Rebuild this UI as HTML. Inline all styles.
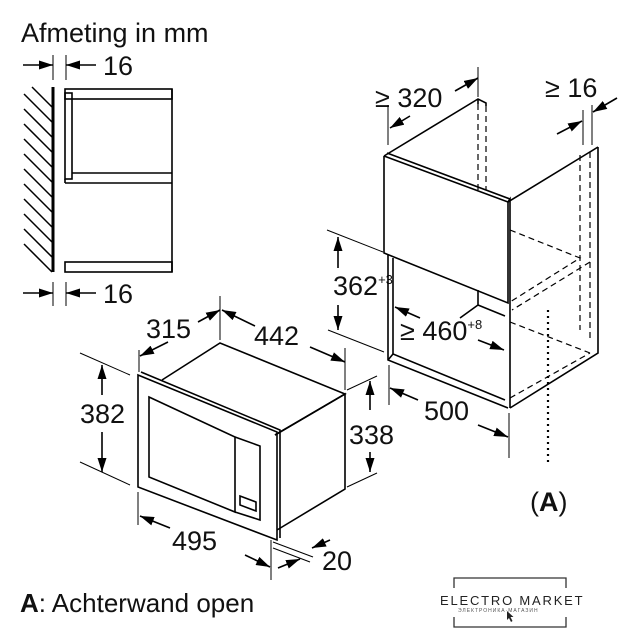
<!DOCTYPE html>
<html><head><meta charset="utf-8"><style>
html,body{margin:0;padding:0;background:#fff;}
svg{display:block;font-family:"Liberation Sans",Arial,sans-serif;}
</style></head><body>
<svg width="637" height="640" viewBox="0 0 637 640" xmlns="http://www.w3.org/2000/svg">
<defs>
<marker id="a" viewBox="0 0 14 9" refX="14" refY="4.5" markerWidth="14" markerHeight="9" markerUnits="userSpaceOnUse" orient="auto"><path d="M0,0 L14,4.5 L0,9 z" fill="#000"/></marker>
</defs>
<g fill="#111" font-size="27">
<text x="21" y="42">Afmeting in mm</text>
<text x="103" y="75">16</text>
<text x="103" y="303">16</text>
<text x="375" y="107">≥ 320</text>
<text x="545" y="97">≥ 16</text>
<text x="333" y="295">362<tspan font-size="13" dy="-11">+3</tspan></text>
<text x="400" y="340">≥ 460<tspan font-size="13" dy="-11">+8</tspan></text>
<text x="424" y="420">500</text>
<text x="146" y="338">315</text>
<text x="254" y="345">442</text>
<text x="80" y="423">382</text>
<text x="349" y="444">338</text>
<text x="172" y="550">495</text>
<text x="322" y="570">20</text>
<text x="530" y="511">(<tspan font-weight="bold">A</tspan>)</text>
<text x="20" y="612" font-size="26"><tspan font-weight="bold">A</tspan>: Achterwand open</text>
</g>
<g stroke="#000" stroke-width="1.6" fill="none">
<line x1="53" y1="55" x2="53" y2="80" stroke-width="1"/>
<line x1="66" y1="55" x2="66" y2="80" stroke-width="1"/>
<line x1="23" y1="65" x2="53" y2="65" marker-end="url(#a)"/>
<line x1="96" y1="65" x2="66" y2="65" marker-end="url(#a)"/>
<line x1="53" y1="282" x2="53" y2="306" stroke-width="1"/>
<line x1="66" y1="282" x2="66" y2="306" stroke-width="1"/>
<line x1="23" y1="293" x2="53" y2="293" marker-end="url(#a)"/>
<line x1="96" y1="293" x2="66" y2="293" marker-end="url(#a)"/>
<line x1="53" y1="87" x2="53" y2="272" stroke-width="3"/>
<g stroke-width="1.5">
<line x1="32" y1="87" x2="52" y2="107"/><line x1="24" y1="94" x2="52" y2="122"/>
<line x1="24" y1="109" x2="52" y2="137"/><line x1="24" y1="124" x2="52" y2="152"/>
<line x1="24" y1="139" x2="52" y2="167"/><line x1="24" y1="154" x2="52" y2="182"/>
<line x1="24" y1="169" x2="52" y2="197"/><line x1="24" y1="184" x2="52" y2="212"/>
<line x1="24" y1="199" x2="52" y2="227"/><line x1="24" y1="214" x2="52" y2="242"/>
<line x1="24" y1="229" x2="52" y2="257"/><line x1="24" y1="244" x2="52" y2="272"/>
</g>
<rect x="65" y="89" width="107" height="10"/>
<rect x="65" y="93" width="7" height="86"/>
<path d="M72,173 H172 M65,183 H172 M65,179 V183"/>
<line x1="172" y1="89" x2="172" y2="272"/>
<rect x="65" y="262" width="107" height="10"/>
<path d="M384,156 L478,99 L486,103 L486,106"/>
<path d="M478,99 L478,104"/>
<path d="M384,156 L508,202 L598,147 L590,152"/>
<path d="M387,153 L510,199"/>
<path d="M384,156 V253 L508,303 V202"/>
<path d="M508,202 L510,199 V408"/>
<path d="M598,147 V353 L510,408"/>
<path d="M388,255 V360 L508,408"/>
<path d="M393,258 V354 L505,400"/>
<path d="M393,354 L388,360"/>
<path d="M478,290 V305 L460,318 M478,305 L505,316"/>
<g stroke-dasharray="6,4" stroke-width="1.2">
<path d="M478,104 V190 M486,106 V190"/>
<path d="M580,155 V330 M590,152 V340"/>
<path d="M510,230 L580,258 L510,302"/>
<path d="M590,262 L512,310"/>
<path d="M510,322 L590,353"/>
<path d="M510,398 L590,353"/>
</g>
<path d="M548,310 V465" stroke-dasharray="2,4" stroke-width="2.2"/>
<line x1="388" y1="105" x2="388" y2="145" stroke-width="1"/>
<line x1="478" y1="67" x2="478" y2="97" stroke-width="1"/>
<line x1="410" y1="116" x2="390" y2="128" marker-end="url(#a)"/>
<line x1="455" y1="91" x2="478" y2="78" marker-end="url(#a)"/>
<line x1="583" y1="110" x2="583" y2="145" stroke-width="1"/>
<line x1="592" y1="105" x2="592" y2="145" stroke-width="1"/>
<line x1="557" y1="134" x2="582" y2="121" marker-end="url(#a)"/>
<line x1="617" y1="98" x2="593" y2="112" marker-end="url(#a)"/>
<line x1="327" y1="230" x2="383" y2="252" stroke-width="1"/>
<line x1="328" y1="330" x2="384" y2="352" stroke-width="1"/>
<line x1="338" y1="268" x2="338" y2="237" marker-end="url(#a)"/>
<line x1="338" y1="305" x2="338" y2="330" marker-end="url(#a)"/>
<line x1="420" y1="318" x2="395" y2="307" marker-end="url(#a)"/>
<line x1="478" y1="340" x2="504" y2="350" marker-end="url(#a)"/>
<line x1="389" y1="365" x2="389" y2="405" stroke-width="1"/>
<line x1="509" y1="413" x2="509" y2="458" stroke-width="1"/>
<line x1="418" y1="400" x2="390" y2="388" marker-end="url(#a)"/>
<line x1="478" y1="425" x2="508" y2="437" marker-end="url(#a)"/>
<path d="M162,380 L220,343 L345,394 L275,435"/>
<path d="M138,375 L277,432 V540 L138,487 Z"/>
<path d="M141,372 L280,430 V538"/>
<path d="M275,435 L345,394 V489 L277,530"/>
<path d="M149,397 L235,437 V512 L149,477 Z"/>
<path d="M235,437 L260,446 V520 L235,512"/>
<path d="M240,496 L256,502 V511 L240,505 Z"/>
<line x1="139" y1="350" x2="139" y2="372" stroke-width="1"/>
<line x1="220" y1="296" x2="220" y2="340" stroke-width="1"/>
<line x1="168" y1="342" x2="140" y2="356" marker-end="url(#a)"/>
<line x1="198" y1="322" x2="220" y2="310" marker-end="url(#a)"/>
<line x1="255" y1="326" x2="222" y2="310" marker-end="url(#a)"/>
<line x1="310" y1="347" x2="345" y2="362" marker-end="url(#a)"/>
<line x1="345" y1="348" x2="345" y2="390" stroke-width="1"/>
<line x1="80" y1="353" x2="130" y2="375" stroke-width="1"/>
<line x1="80" y1="462" x2="130" y2="485" stroke-width="1"/>
<line x1="102" y1="395" x2="102" y2="365" marker-end="url(#a)"/>
<line x1="102" y1="432" x2="102" y2="472" marker-end="url(#a)"/>
<line x1="347" y1="390" x2="377" y2="376" stroke-width="1"/>
<line x1="347" y1="487" x2="377" y2="473" stroke-width="1"/>
<line x1="370" y1="410" x2="370" y2="381" marker-end="url(#a)"/>
<line x1="370" y1="452" x2="370" y2="472" marker-end="url(#a)"/>
<line x1="138" y1="492" x2="138" y2="525" stroke-width="1"/>
<line x1="271" y1="540" x2="271" y2="580" stroke-width="1"/>
<line x1="170" y1="528" x2="140" y2="516" marker-end="url(#a)"/>
<line x1="245" y1="555" x2="270" y2="567" marker-end="url(#a)"/>
<line x1="273" y1="542" x2="313" y2="557" stroke-width="1"/>
<line x1="273" y1="548" x2="310" y2="562" stroke-width="1"/>
<line x1="330" y1="540" x2="312" y2="548" marker-end="url(#a)"/>
<line x1="278" y1="568" x2="300" y2="559" marker-end="url(#a)"/>
<path d="M454,588 V578 H566 V588 M454,617 V627 H566 V617" stroke="#333" stroke-width="1.3"/>
</g>
<text x="440" y="605" font-size="13" letter-spacing="1.8" fill="#222">ELECTRO MARKET</text>
<text x="458" y="612" font-size="5" letter-spacing="1" fill="#555">ЭЛЕКТРОНИКА·МАГАЗИН</text>
<path d="M507,611 l0,9 l2,-2 l2,4 l1.5,-1 l-2,-4 l3,0 z" fill="#222"/>
</svg>
</body></html>
